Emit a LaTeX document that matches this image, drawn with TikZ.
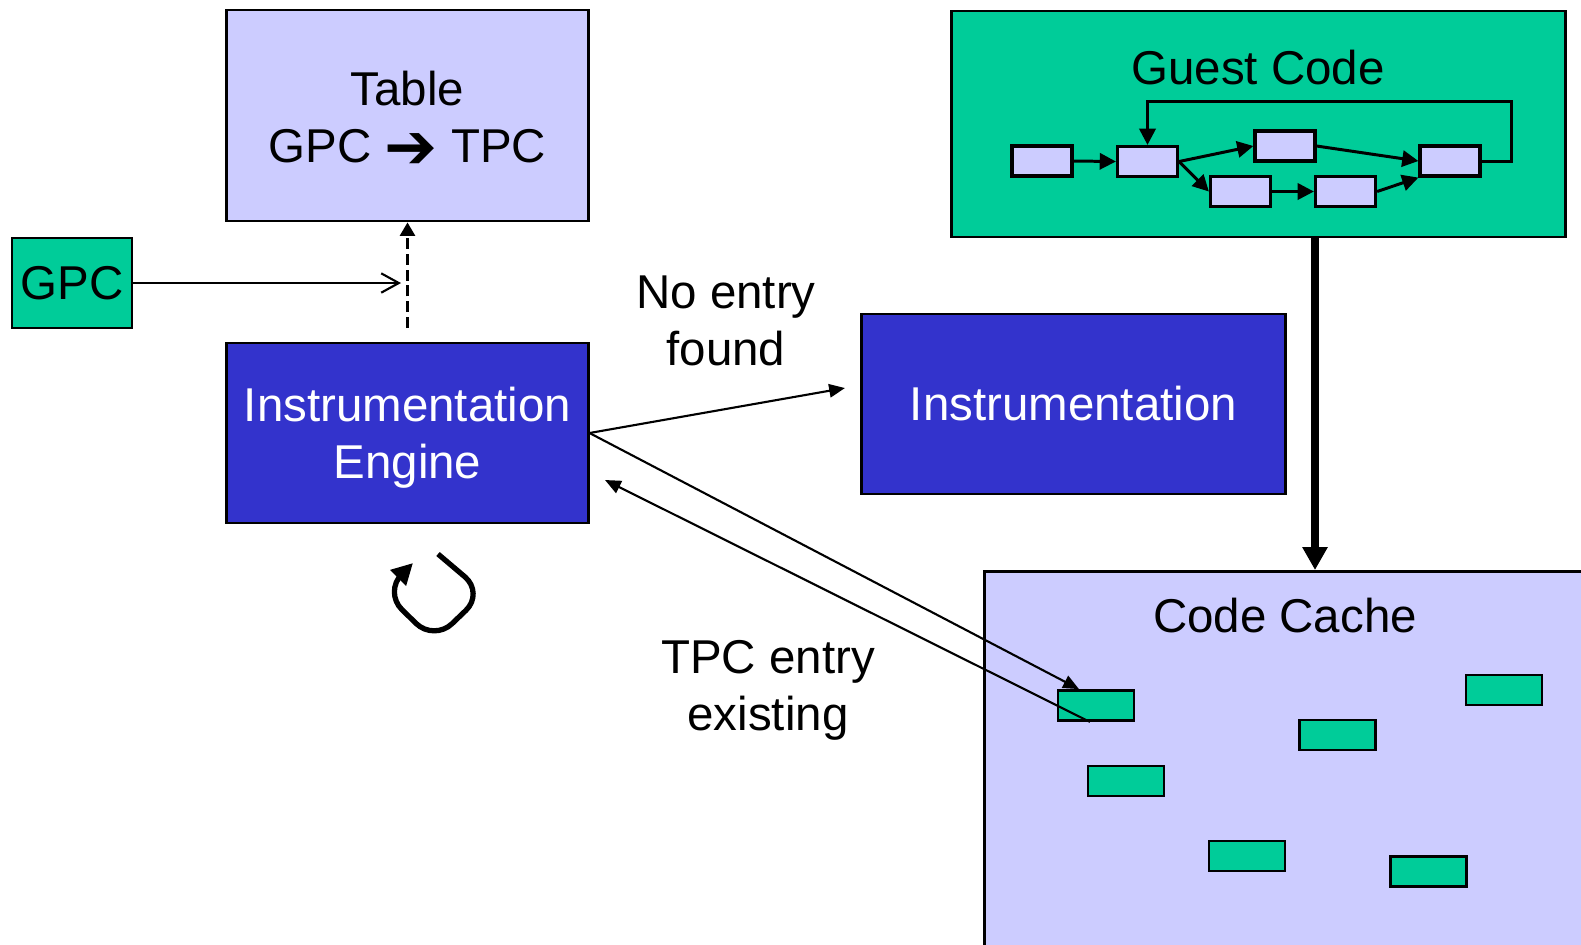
\documentclass[tikz,border=0pt]{standalone}
\usepackage{fontspec}
\setmainfont{Liberation Sans}
\newfontfamily\symfont{DejaVu Sans}
\usetikzlibrary{arrows.meta,calc}
\definecolor{lav}{HTML}{CCCCFF}
\definecolor{gcgreen}{HTML}{00CC99}
\definecolor{iblue}{HTML}{3333CC}
\begin{document}
\begin{tikzpicture}[x=0.01cm,y=-0.01cm,
  font=\fontsize{13.5}{16.2}\selectfont,
  box/.style={draw=black, line width=0.8pt, inner sep=0pt, align=center},
  blk/.style={box, line width=0.9pt, fill=lav, minimum width=0.6cm, minimum height=0.3cm},
  cblk/.style={box, fill=gcgreen, minimum width=0.76cm, minimum height=0.3cm},
  thin/.style={line width=0.6pt},
  tri/.style={-{Triangle[length=4.5pt,width=3.8pt]}},
  gtri/.style={line width=0.85pt, -{Triangle[length=4.6pt,width=4.6pt]}},
  lbl/.style={align=center, inner sep=0pt}]
\useasboundingbox (0,0) rectangle (1581,944);

% main blocks
\node[box, fill=lav, minimum width=3.61cm, minimum height=2.11cm] (table) at (407.5,115.5) {};
\node[lbl] (tablelbl) at (407.5,117)
  {Table\\GPC \smash{\raisebox{-1.6pt}{\symfont\fontsize{18}{16}\selectfont ➔}} TPC};
\node[box, fill=gcgreen, minimum width=1.2cm, minimum height=0.9cm] (gpc) at (72,283) {GPC};
\node[box, fill=iblue, text=white, text depth=0pt, minimum width=3.61cm, minimum height=1.8cm] (engine) at (407.5,433)
  {Instrumentation\\Engine};
\node[box, fill=iblue, text=white, minimum width=4.23cm, minimum height=1.8cm] (instr) at (1073.5,404)
  {Instrumentation};
\node[box, fill=gcgreen, minimum width=6.13cm, minimum height=2.26cm] (guest) at (1258.5,124) {};
\node[lbl] (guestlbl) at (1258,68) {Guest Code};

% code cache, running off the page
\begin{scope}
  \clip (0,0) rectangle (1581,944);
  \node[box, fill=lav, minimum width=6.4cm, minimum height=4.2cm, anchor=north west] (cache) at (983,570) {};
\end{scope}
\node[lbl] (cachelbl) at (1285,616) {Code Cache};

% guest code control flow graph
\node[blk] (b1) at (1042,161) {};
\node[blk] (b2) at (1147.5,161.5) {};
\node[blk] (b3) at (1285,146) {};
\node[blk] (b4) at (1240.5,191.5) {};
\node[blk] (b5) at (1345.5,191.5) {};
\node[blk] (b6) at (1450,161) {};
\coordinate (looptop) at (1511,101);
\draw[gtri] (b1.east) -- (b2.west);
\draw[gtri] (b2.east) -- (b3.west);
\draw[gtri] (b2.east) -- (b4.west);
\draw[gtri] (b3.east) -- (b6.west);
\draw[gtri] (b4.east) -- (b5.west);
\draw[gtri] (b5.east) -- (b6.south west);
\draw[gtri] (b6.east) -| (looptop) -| (b2.north);

% translated blocks in the code cache
\node[cblk] (c1) at (1096,705.5) {};
\node[cblk] (c2) at (1504,690) {};
\node[cblk] (c3) at (1337.5,735) {};
\node[cblk] (c4) at (1126,781) {};
\node[cblk] (c5) at (1247,856) {};
\node[cblk] (c6) at (1428.5,871.5) {};

% lookup of the guest PC in the table
\coordinate (gpcend) at (401,283);
\coordinate (dstart) at (407.5,328);
\draw[thin, -{Straight Barb[length=5pt,width=5.5pt]}] (gpc.east) -- (gpcend);
\draw[thin, dash pattern=on 3.1pt off 1.4pt, -{Triangle[length=3.8pt,width=4.3pt]}] (dstart) -- (table.south);

% engine paths
\coordinate (noentry) at (845,388);
\coordinate (back) at (605,480);
\draw[thin, tri] (engine.east) -- (noentry);
\draw[thin, tri] (engine.east) -- ([xshift=-0.17cm]c1.north);
\draw[thin, tri] ([xshift=-0.06cm]c1.south) -- (back);
\node[lbl] (noentrylbl) at (726,321) {No entry\\found};
\node[lbl] (tpclbl) at (768,690) {TPC entry\\existing};

% guest code is translated into the cache
\coordinate (tx) at (1315,0);
\draw[line width=2.3pt, -{Triangle[length=6.5pt,width=6.8pt]}] (guest.south -| tx) -- (cache.north -| tx);

% engine loop symbol
\draw[line width=1.5pt, rounded corners=0.25cm, -{Triangle[length=6pt,width=6pt]}]
  (438,554) -- (484,593) -- (434,641) -- (384,592) -- (413,563);
\end{tikzpicture}
\end{document}
